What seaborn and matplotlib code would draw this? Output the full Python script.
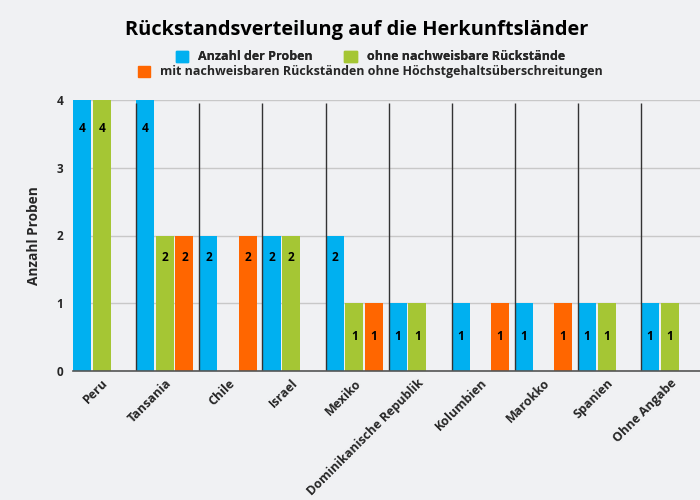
import matplotlib
matplotlib.use("Agg")
import matplotlib.pyplot as plt
import seaborn as sns
import pandas as pd
import numpy as np

# ---- data ----
countries = ["Peru", "Tansania", "Chile", "Israel", "Mexiko",
             "Dominikanische Republik", "Kolumbien", "Marokko", "Spanien", "Ohne Angabe"]
series_names = ["Anzahl der Proben",
                "ohne nachweisbare Rückstände",
                "mit nachweisbaren Rückständen ohne Höchstgehaltsüberschreitungen"]
anzahl = [4, 4, 2, 2, 2, 1, 1, 1, 1, 1]
ohne = [4, 2, 0, 2, 1, 1, 0, 0, 1, 1]
mit = [0, 2, 2, 0, 1, 0, 1, 1, 0, 0]
yticks = [0, 1, 2, 3, 4]

title = "Rückstandsverteilung auf die Herkunftsländer"
ylabel = "Anzahl Proben"

colors = ["#00b0f0", "#a5c634", "#ff6600"]
bg = "#f0f1f3"

rows = []
for name, vals in zip(series_names, [anzahl, ohne, mit]):
    for c, v in zip(countries, vals):
        rows.append({"Land": c, "Serie": name, "Wert": v})
df = pd.DataFrame(rows)

sns.set_theme(style="white")
plt.rcParams["font.family"] = ["Open Sans", "DejaVu Sans"]

fig = plt.figure(figsize=(7, 5), dpi=100, facecolor=bg)
ax = fig.add_axes([0.104, 0.258, 0.896, 0.542])
ax.set_facecolor(bg)

sns.barplot(data=df, x="Land", y="Wert", hue="Serie", order=countries,
            hue_order=series_names, palette=colors, width=0.93, gap=0.08,
            linewidth=0, saturation=1, ax=ax, legend=False, zorder=3)

ax.set_xlim(-0.46, 9.48)
ax.set_ylim(0, 4)
ax.set_yticks(yticks)
ax.set_yticklabels([str(t) for t in yticks], fontsize=8.5, fontweight="bold")
ax.grid(axis="y", color="#c8c8c8", linewidth=1, zorder=0)
ax.grid(axis="x", visible=False)
for s in ["top", "right", "left"]:
    ax.spines[s].set_visible(False)
ax.spines["bottom"].set_color("#555555")
ax.spines["bottom"].set_linewidth(1.2)
ax.spines["bottom"].set_zorder(5)
ax.tick_params(axis="both", length=0)
ax.tick_params(axis="y", pad=7)
ax.tick_params(axis="x", pad=4)

ax.set_xticks(range(len(countries)))
ax.set_xticklabels(countries, rotation=45, ha="right", rotation_mode="anchor",
                   fontsize=9, fontweight="bold")
ax.set_xlabel("")
ax.set_ylabel(ylabel, fontsize=9.8, fontweight="bold", labelpad=11)

# vertical separator lines at left edge of each group
grp_left = [i - 0.455 for i in range(1, len(countries))]
ax.vlines(grp_left, 0, 3.96, color="#333333", linewidth=1.0, zorder=4)

# value labels inside bars
offsets_px = {4: -28, 2: -22, 1: -33}
for container in ax.containers:
    for bar in container:
        h = bar.get_height()
        if h > 0:
            ax.annotate(f"{int(h)}", (bar.get_x() + bar.get_width() / 2, h),
                        xytext=(0, offsets_px.get(int(h), -20)), textcoords="offset pixels",
                        ha="center", va="center", fontsize=8.5, fontweight="bold",
                        color="black", zorder=6)

fig.text(0.51, 0.94, title, ha="center", va="center", fontsize=14.4,
         fontweight="bold", color="black")

handles = [plt.Rectangle((0, 0), 1, 1, color=c) for c in colors]
leg1 = fig.legend(handles[:2], series_names[:2], loc="center", ncol=2,
                  bbox_to_anchor=(0.529, 0.886), frameon=False,
                  prop={"size": 9, "weight": "bold"}, handlelength=1.0,
                  handleheight=1.0, handletextpad=0.8, columnspacing=2.5,
                  borderpad=0, borderaxespad=0)
leg2 = fig.legend(handles[2:], series_names[2:], loc="center", ncol=1,
                  bbox_to_anchor=(0.529, 0.856), frameon=False,
                  prop={"size": 9, "weight": "bold"}, handlelength=1.0,
                  handleheight=1.0, handletextpad=0.8,
                  borderpad=0, borderaxespad=0)
fig.add_artist(leg1)

fig.savefig("out.png", dpi=100, facecolor=bg)
